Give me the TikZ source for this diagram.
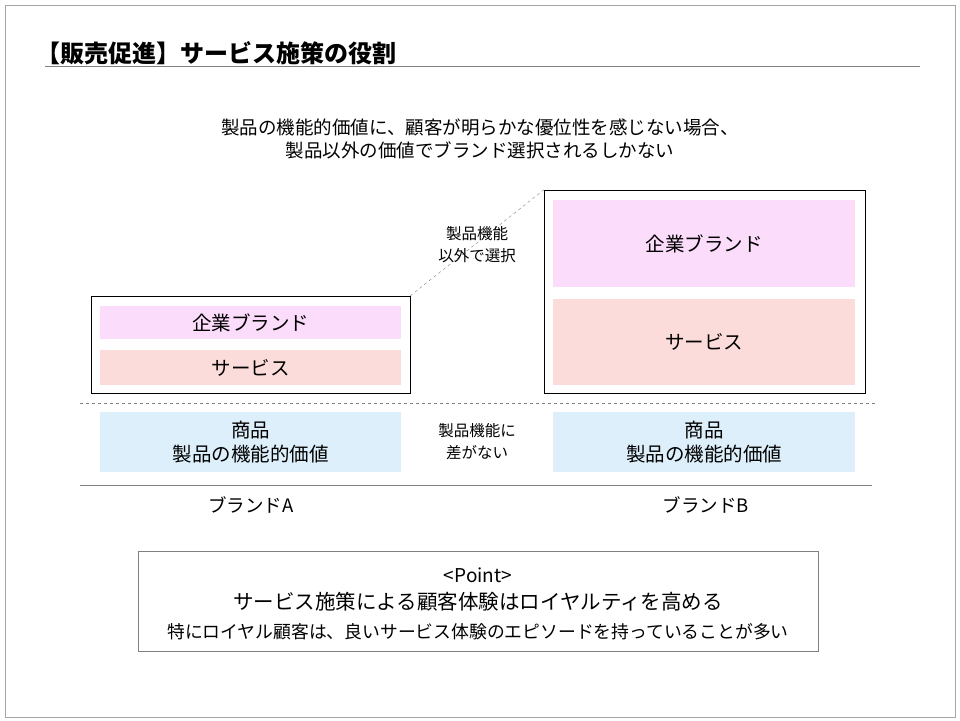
\documentclass[tikz,border=0pt]{standalone}
\usepackage{fontspec}
\setmainfont{Noto Sans CJK JP}
\definecolor{brandpink}{HTML}{FBDCFA}
\definecolor{servsalmon}{HTML}{FCDCDA}
\definecolor{itemblue}{HTML}{DDEFFA}
\tikzset{
  fillbox/.style={minimum width=301pt, inner sep=0pt, align=center, font=\fontsize{19.5}{24}\selectfont},
  note/.style={align=center, font=\fontsize{15.5}{22}\selectfont},
}
\begin{document}
\begin{tikzpicture}[x=1pt,y=-1pt]
\useasboundingbox (0,0) rectangle (960,720);
\draw[gray!70] (5,5) rectangle (955,717);
\node[anchor=west, inner sep=0pt, font=\fontsize{24}{27}\selectfont\bfseries](title) at (36,53){【販売促進】サービス施策の役割};
\draw[gray] (45,66) -- (920,66);
\node[align=center, font=\fontsize{18.5}{23}\selectfont](lead) at (480,139){製品の機能的価値に、顧客が明らかな優位性を感じない場合、\\製品以外の価値でブランド選択されるしかない};
% brand A
\node[draw, minimum width=319pt, minimum height=97pt](boxa) at (250.5,344.5){};
\node[fillbox, fill=brandpink, minimum height=33pt](corpa) at (250.5,322.5){企業ブランド};
\node[fillbox, fill=servsalmon, minimum height=35pt](serva) at (250.5,367.5){サービス};
% brand B
\node[draw, minimum width=321pt, minimum height=203pt](boxb) at (704.5,291.5){};
\node[fillbox, fill=brandpink, minimum width=302pt, minimum height=87pt](corpb) at (704,243.5){企業ブランド};
\node[fillbox, fill=servsalmon, minimum width=302pt, minimum height=86pt](servb) at (704,342){サービス};
\draw[dashed, gray] (boxa.north east) -- (boxb.north west);
\node[note](other) at (477,245){製品機能\\以外で選択};
\draw[dashed, gray] (80,403) -- (875,403);
% product
\node[fillbox, fill=itemblue, minimum height=60pt](proda) at (250.5,442){商品\\製品の機能的価値};
\node[fillbox, fill=itemblue, minimum width=302pt, minimum height=60pt](prodb) at (704,442){商品\\製品の機能的価値};
\node[note](same) at (477,442){製品機能に\\差がない};
\draw[gray] (80,485) -- (872,485);
\node[font=\fontsize{18.5}{22}\selectfont](namea) at (251,505){ブランドA};
\node[font=\fontsize{18.5}{22}\selectfont](nameb) at (706,505){ブランドB};
% point
\node[draw=gray, minimum width=680pt, minimum height=100pt](point) at (478,601){};
\node[font=\fontsize{19}{22}\selectfont](ptitle) at (478,575){<Point>};
\node[font=\fontsize{20.5}{24}\selectfont](pmain) at (478,602){サービス施策による顧客体験はロイヤルティを高める};
\node[font=\fontsize{17.8}{22}\selectfont](psub) at (478,632){特にロイヤル顧客は、良いサービス体験のエピソードを持っていることが多い};
\end{tikzpicture}
\end{document}
